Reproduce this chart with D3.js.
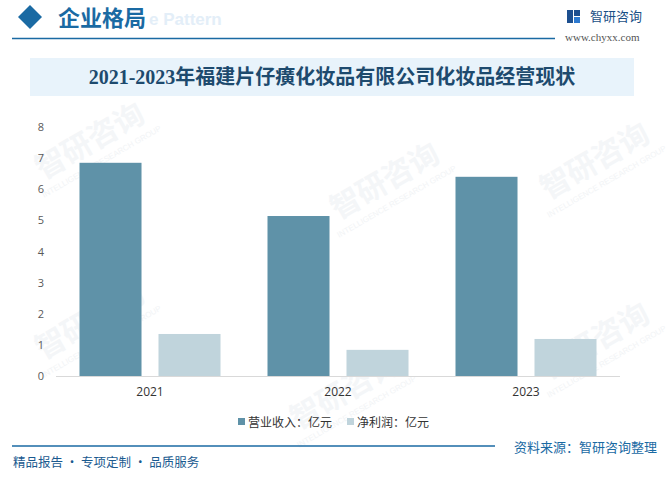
<!DOCTYPE html>
<html><head><meta charset="utf-8">
<script src="https://cdn.jsdelivr.net/npm/d3@7"></script>
<style>html,body{margin:0;padding:0;background:#fff;}svg{display:block;}</style>
</head><body>
<svg id="c" width="671" height="480"></svg>
<script>
const years = ["2021", "2022", "2023"];
const seriesNames = ["营业收入：亿元", "净利润：亿元"];
const revenue = [6.85, 5.14, 6.40];
const netProfit = [1.35, 0.84, 1.19];
const yTicks = [0, 1, 2, 3, 4, 5, 6, 7, 8];
const title = "2021-2023年福建片仔癀化妆品有限公司化妆品经营现状";

const colors = ["#5f92a8", "#c0d4dc"];
const cjk = "'Noto Sans CJK SC', 'Noto Sans', sans-serif";
const svg = d3.select("#c");

// watermarks
const wm = [[95,150],[95,330],[390,190],[600,170],[600,350],[350,400]];
wm.forEach(([x,y]) => {
  const g = svg.append("g").attr("transform", `translate(${x},${y}) rotate(-30)`);
  g.append("text").attr("x", 0).attr("y", 0).attr("font-family", cjk).attr("font-size", 30)
    .attr("font-weight", 700).attr("fill", "#f4f6f8").attr("text-anchor", "middle").text("智研咨询");
  g.append("text").attr("x", 0).attr("y", 16).attr("font-family", "Arial, sans-serif").attr("font-size", 8)
    .attr("fill", "#f2f4f6").attr("text-anchor", "middle").text("INTELLIGENCE RESEARCH GROUP");
});

// header
svg.append("text").attr("x", 149).attr("y", 25)
  .attr("font-family", "Arial, 'Liberation Sans', sans-serif").attr("font-weight", 700)
  .attr("font-size", 17).attr("fill", "#e3eef8").text("e Pattern");
svg.append("path").attr("d", "M30,5 L42,17 L30,29 L18,17 Z").attr("fill", "#1a6aa3");
svg.append("text").attr("x", 58).attr("y", 26).attr("font-family", cjk).attr("font-weight", 700)
  .attr("font-size", 22).attr("fill", "#1a6aa3").text("企业格局");
svg.append("line").attr("x1", 12).attr("x2", 555).attr("y1", 38.5).attr("y2", 38.5)
  .attr("stroke", "#1a6aa3").attr("stroke-width", 1.5);

// logo
const lg = svg.append("g");
lg.append("rect").attr("x", 567).attr("y", 10).attr("width", 6).attr("height", 13).attr("fill", "#1d4f8f");
lg.append("rect").attr("x", 574).attr("y", 10).attr("width", 6).attr("height", 6).attr("fill", "#1d4f8f");
lg.append("rect").attr("x", 574).attr("y", 17).attr("width", 6).attr("height", 6).attr("fill", "#2d7ad0");
svg.append("text").attr("x", 590).attr("y", 21).attr("font-family", cjk)
  .attr("font-size", 13).attr("fill", "#1a4f86").text("智研咨询");
svg.append("text").attr("x", 565).attr("y", 41).attr("font-family", "'Liberation Serif', serif")
  .attr("font-size", 11).attr("fill", "#555").text("www.chyxx.com");

// title banner
svg.append("rect").attr("x", 30).attr("y", 58).attr("width", 604).attr("height", 38).attr("fill", "#e8f3fb");
svg.append("text").attr("x", 332).attr("y", 84).attr("text-anchor", "middle")
  .attr("font-family", "'Liberation Serif', 'Noto Sans CJK SC', serif").attr("font-weight", 700)
  .attr("font-size", 20).attr("fill", "#1d4a6e").text(title);

// scales
const x = d3.scaleBand().domain(years).range([56, 620]).paddingInner(0.25).paddingOuter(0.125);
const xs = d3.scaleBand().domain(seriesNames).range([0, x.bandwidth()]).paddingInner(0.215);
const y = d3.scaleLinear().domain([0, 8]).range([376, 127]);

// y axis labels
const yAxis = d3.axisLeft(y).tickValues(yTicks).tickSize(0).tickPadding(0);
const ya = svg.append("g").attr("transform", "translate(44,0)").call(yAxis);
ya.select(".domain").remove();
ya.selectAll("text").attr("font-family", "'Open Sans', 'Noto Sans', sans-serif").attr("font-size", 11).attr("fill", "#595959");

// bars
const data = [revenue, netProfit];
data.forEach((vals, si) => {
  svg.append("g").selectAll("rect").data(years).join("rect")
    .attr("x", d => x(d) + xs(seriesNames[si]))
    .attr("width", xs.bandwidth())
    .attr("y", (d, i) => y(vals[i]))
    .attr("height", (d, i) => y(0) - y(vals[i]))
    .attr("fill", colors[si]);
});

// x axis
const xAxis = d3.axisBottom(x).tickSize(0).tickPadding(11);
const xa = svg.append("g").attr("transform", `translate(0,${y(0)})`).call(xAxis);
xa.select(".domain").attr("stroke", "#d9d9d9").attr("d", "M56,0.5H620");
xa.selectAll("text").attr("font-family", "'Open Sans', 'Noto Sans', sans-serif").attr("font-size", 12).attr("fill", "#333");

// legend
const legX = [238, 347];
seriesNames.forEach((n, i) => {
  svg.append("rect").attr("x", legX[i]).attr("y", 418).attr("width", 7).attr("height", 7).attr("fill", colors[i]);
  svg.append("text").attr("x", legX[i] + 10).attr("y", 427).attr("font-family", cjk)
    .attr("font-size", 12).attr("fill", "#333").text(n);
});

// footer
svg.append("line").attr("x1", 12).attr("x2", 495).attr("y1", 446).attr("y2", 446)
  .attr("stroke", "#1a6aa3").attr("stroke-width", 1.5);
svg.append("text").attr("x", 657).attr("y", 452).attr("text-anchor", "end").attr("font-family", cjk)
  .attr("font-size", 13).attr("fill", "#1a6aa3").text("资料来源：智研咨询整理");
svg.append("text").attr("x", 13).attr("y", 467).attr("font-family", cjk)
  .attr("font-size", 12.5).attr("fill", "#1a5a8f").text("精品报告 · 专项定制 · 品质服务");
</script>
</body></html>
